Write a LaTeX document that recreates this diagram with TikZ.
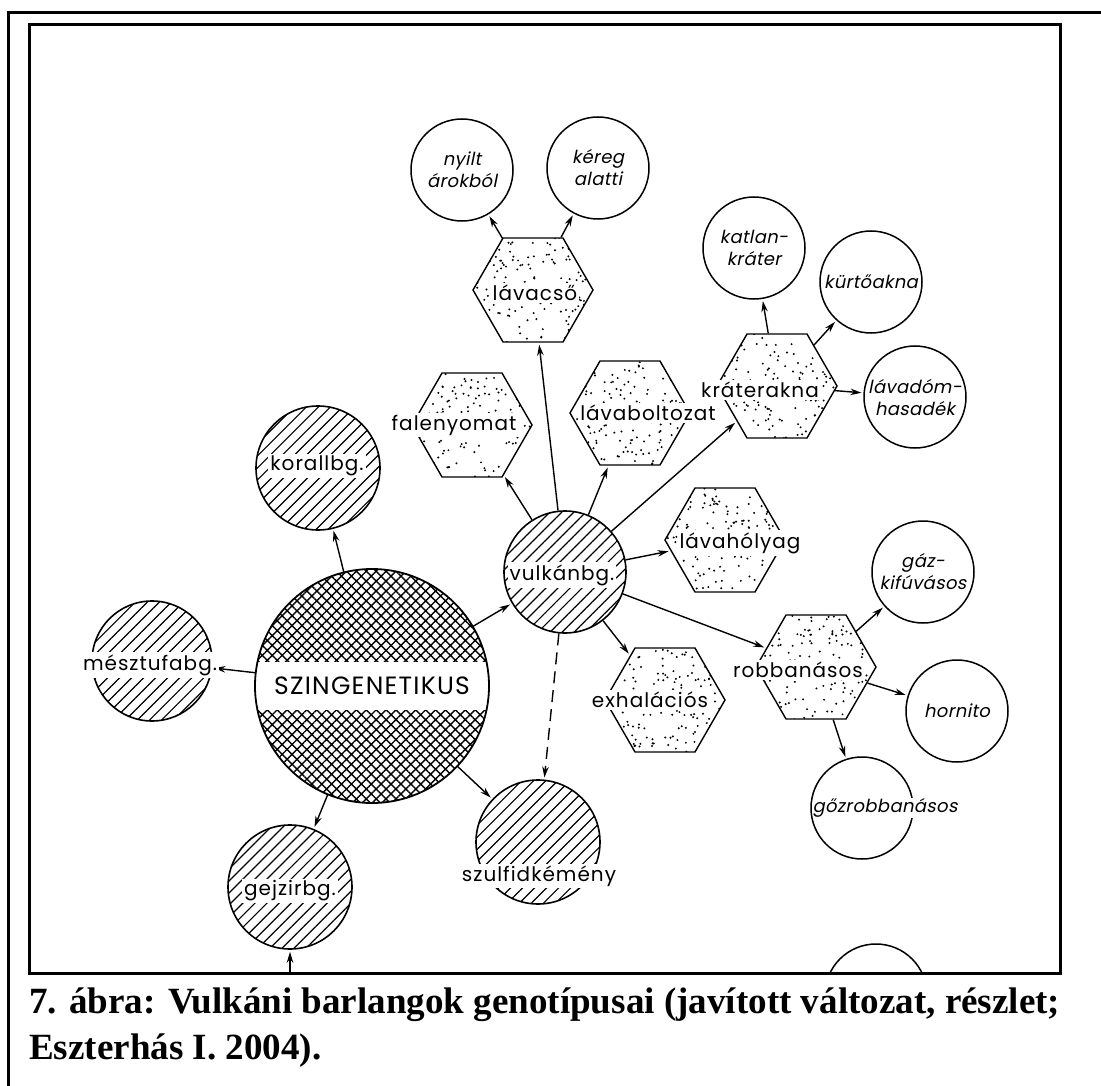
\documentclass[tikz,border=0pt]{standalone}
\usepackage{fontspec}
\usepackage{graphicx}
\setmainfont{Liberation Serif}
\newfontfamily\letterfont[LetterSpace=5]{Poppins}
\newfontfamily\slantletter[FakeSlant=0.2,LetterSpace=2]{Poppins}
\usetikzlibrary{arrows.meta,shapes.geometric,patterns.meta}

\tikzset{
  hexcell/.style={draw, line width=1.4pt, regular polygon, regular polygon sides=6,
    minimum size=120pt, inner sep=0pt,
    path picture={\foreach \k in {1,...,170}
      \fill ([shift={({rnd*120-60},{rnd*110-55})}]path picture bounding box.center) circle (1.1pt);}},
  hatchcircle/.style={circle, draw, line width=1.6pt, minimum size=124pt, inner sep=0pt,
    pattern={Lines[angle=45,distance=8.5pt,line width=1.2pt]}},
  crosscircle/.style={circle, draw, line width=1.8pt, minimum size=234pt, inner sep=0pt,
    pattern={Hatch[angle=45,distance=7pt,line width=1.4pt]},
    path picture={\fill[white] ([yshift=-24pt]path picture bounding box.west)
      rectangle ([yshift=24pt]path picture bounding box.east);}},
  opencircle/.style={circle, draw, line width=1.5pt, minimum size=102pt, inner sep=0pt},
  typelabel/.style={fill=white, inner sep=2pt, font=\letterfont\fontsize{20}{24}\selectfont},
  kindlabel/.style={align=center, inner sep=1pt, font=\slantletter\fontsize{18}{22}\selectfont},
  genarrow/.style={-{Stealth[length=11pt,width=6.5pt]}, line width=1.4pt, shorten >=2pt},
}

\begin{document}
\begin{tikzpicture}[x=1pt, y=-1pt]
  \useasboundingbox (0,0) rectangle (1101,1086);
  \pgfmathsetseed{11}

  % Frames
  \draw[line width=3pt] (8,1086) -- (8,13) -- (1101,13);
  \draw[line width=3pt] (29,25) rectangle (1060,973);

  \begin{scope}
    \clip (29,25) rectangle (1060,973);

    % Stippled hexagons
    \node[hexcell] (lavacso) at (533,290) {};
    \node[hexcell] (falenyomat) at (472,425) {};
    \node[hexcell] (boltozat) at (630,413) {};
    \node[hexcell] (kraterakna) at (777,386) {};
    \node[hexcell] (holyag) at (725,540) {};
    \node[hexcell] (exhalacios) at (665,700) {};
    \node[hexcell] (robbanasos) at (816,667) {};

    % Hatched circles
    \node[hatchcircle] (korall) at (318,468) {};
    \node[hatchcircle, minimum size=120pt] (mesztufa) at (152,661) {};
    \node[hatchcircle, minimum size=122pt] (vulkan) at (565,572) {};
    \node[hatchcircle] (szulfid) at (538,842) {};
    \node[hatchcircle] (gejzir) at (290,887) {};
    \node[crosscircle] (szingen) at (372,686) {};

    % Open circles
    \node[opencircle] (nyilt) at (462,170) {};
    \node[opencircle] (kereg) at (598,168) {};
    \node[opencircle] (katlan) at (754,248) {};
    \node[opencircle] (kurto) at (871,282) {};
    \node[opencircle] (lavadom) at (915,397) {};
    \node[opencircle] (gazki) at (923,572) {};
    \node[opencircle] (hornito) at (957,711) {};
    \node[opencircle] (gozrob) at (862,808) {};
    \node[opencircle] (cutoff) at (876,995) {};
    \coordinate (belowgejzir) at (290,995);

    % Arrows
    \draw[genarrow] (szingen) -- (korall);
    \draw[genarrow] (szingen) -- (mesztufa);
    \draw[genarrow] (szingen) -- (vulkan);
    \draw[genarrow] (szingen) -- (szulfid);
    \draw[genarrow] (szingen) -- (gejzir);
    \draw[genarrow] (belowgejzir) -- (gejzir);
    \draw[genarrow] (vulkan) -- (falenyomat);
    \draw[genarrow] (vulkan) -- (lavacso);
    \draw[genarrow] (vulkan) -- (boltozat);
    \draw[genarrow] (vulkan) -- (kraterakna);
    \draw[genarrow] (vulkan) -- (holyag);
    \draw[genarrow] (vulkan) -- (robbanasos);
    \draw[genarrow] (vulkan) -- (exhalacios);
    \draw[genarrow, dash pattern=on 12pt off 7pt] (vulkan) -- (szulfid);
    \draw[genarrow] (lavacso) -- (nyilt);
    \draw[genarrow] (lavacso) -- (kereg);
    \draw[genarrow] (kraterakna) -- (katlan);
    \draw[genarrow] (kraterakna) -- (kurto);
    \draw[genarrow] (kraterakna) -- (lavadom);
    \draw[genarrow] (robbanasos) -- (gazki);
    \draw[genarrow] (robbanasos) -- (hornito);
    \draw[genarrow] (robbanasos) -- (gozrob);

    % Labels
    \node[typelabel] (lavacso-t) at (535,293) {lávacső};
    \node[typelabel] (falenyomat-t) at (454,425) {falenyomat};
    \node[typelabel] (boltozat-t) at (648,413) {lávaboltozat};
    \node[typelabel] (kraterakna-t) at (760,390) {kráterakna};
    \node[typelabel] (holyag-t) at (740,543) {lávahólyag};
    \node[typelabel] (exhalacios-t) at (650,700) {exhalációs};
    \node[typelabel] (robbanasos-t) at (798,670) {robbanásos};
    \node[typelabel] (korall-t) at (317,466) {korallbg.};
    \node[typelabel] (mesztufa-t) at (150,665) {mésztufabg.};
    \node[typelabel] (vulkan-t) at (562,575) {vulkánbg.};
    \node[typelabel] (szulfid-t) at (539,876) {szulfidkémény};
    \node[typelabel] (gejzir-t) at (290,891) {gejzirbg.};
    \node[typelabel, fill=none, font=\letterfont\fontsize{25}{28}\selectfont] (szingen-t) at (372,686) {SZINGENETIKUS};
    \node[kindlabel] (nyilt-t) at (462,170) {nyilt\\árokból};
    \node[kindlabel] (kereg-t) at (598,168) {kéreg\\alatti};
    \node[kindlabel] (katlan-t) at (754,248) {katlan-\\kráter};
    \node[kindlabel] (kurto-t) at (871,282) {kürtőakna};
    \node[kindlabel] (lavadom-t) at (915,397) {lávadóm-\\hasadék};
    \node[kindlabel] (gazki-t) at (923,572) {gáz-\\kifúvásos};
    \node[kindlabel] (hornito-t) at (957,711) {hornito};
    \node[kindlabel, fill=white, inner xsep=0pt] (gozrob-t) at (885,808) {gőzrobbanásos};
  \end{scope}

  % Caption
  \node[anchor=base west, inner sep=0pt] (caption) at (29,1013)
    {\resizebox*{1031pt}{\totalheight}{\bfseries\fontsize{37}{46}\selectfont
     \begin{tabular}[t]{@{}l@{}}
       7. ábra: Vulkáni barlangok genotípusai (javított változat, részlet;\\
       Eszterhás I. 2004).
     \end{tabular}}};
\end{tikzpicture}
\end{document}
